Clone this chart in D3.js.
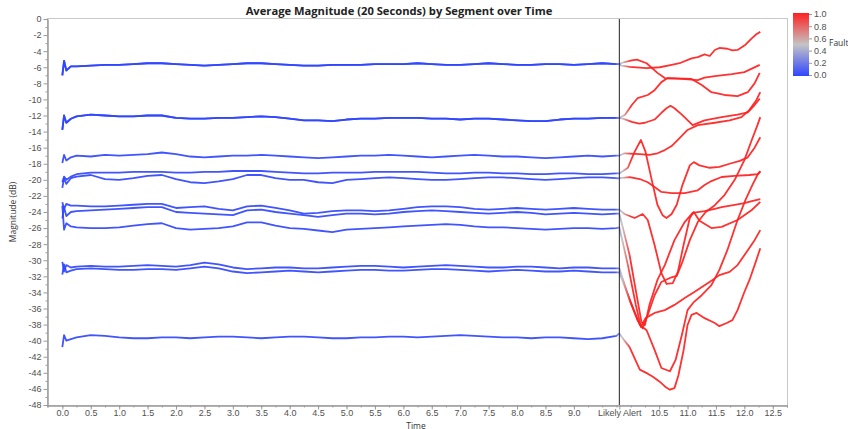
<!DOCTYPE html>
<html>
<head>
<meta charset="utf-8">
<script src="https://cdn.jsdelivr.net/npm/d3@7"></script>
<style>
  body { margin: 0; background: #fff; }
  svg { display: block; font-family: "Open Sans", "Noto Sans", sans-serif; }
</style>
</head>
<body>
<svg id="chart" width="848" height="429"></svg>
<script>
// time stamps of the normal (pre-alert) part, shared by every segment
var baseTime = [0,0.03,0.07,0.15,0.25,0.5,0.75,1,1.25,1.5,1.75,2,2.25,2.5,2.75,3,3.25,3.5,3.75,4,4.25,4.5,4.75,5,5.25,5.5,5.75,6,6.25,6.5,6.75,7,7.25,7.5,7.75,8,8.25,8.5,8.75,9,9.25,9.5,9.75,9.8];

// magnitude (dB) per segment before the alert
var seg1  = [-7.0,-5.2,-6.4,-5.9,-5.9,-5.8,-5.7,-5.7,-5.6,-5.5,-5.5,-5.6,-5.7,-5.8,-5.7,-5.6,-5.5,-5.5,-5.6,-5.7,-5.8,-5.8,-5.7,-5.7,-5.7,-5.6,-5.6,-5.6,-5.5,-5.6,-5.7,-5.7,-5.6,-5.5,-5.6,-5.7,-5.7,-5.6,-5.6,-5.7,-5.6,-5.5,-5.6,-5.6];
var seg2  = [-13.8,-12.0,-12.9,-12.4,-12.1,-11.9,-12.0,-12.1,-12.1,-12.0,-12.0,-12.3,-12.4,-12.4,-12.3,-12.3,-12.2,-12.1,-12.2,-12.4,-12.6,-12.6,-12.7,-12.5,-12.4,-12.4,-12.3,-12.3,-12.3,-12.4,-12.4,-12.5,-12.4,-12.4,-12.5,-12.6,-12.7,-12.7,-12.5,-12.4,-12.4,-12.3,-12.3,-12.3];
var seg3  = [-17.9,-16.9,-17.6,-17.2,-17.0,-17.1,-16.9,-17.0,-16.9,-16.8,-16.6,-16.8,-17.1,-17.2,-17.1,-17.0,-17.0,-16.9,-17.0,-17.1,-17.2,-17.3,-17.2,-17.1,-17.0,-17.0,-16.9,-17.0,-17.1,-17.2,-17.1,-17.0,-16.9,-17.0,-17.1,-17.1,-17.2,-17.3,-17.2,-17.1,-17.0,-17.1,-17.0,-17.0];
var seg4  = [-20.3,-19.6,-20.0,-19.6,-19.3,-19.1,-19.1,-19.1,-19.0,-19.0,-19.0,-19.1,-19.1,-19.0,-19.0,-18.9,-18.9,-18.9,-19.0,-19.1,-19.2,-19.2,-19.1,-19.1,-19.1,-19.0,-19.0,-19.0,-19.0,-19.1,-19.2,-19.2,-19.1,-19.1,-19.2,-19.2,-19.3,-19.3,-19.2,-19.2,-19.3,-19.3,-19.2,-19.2];
var seg5  = [-21.0,-19.8,-20.5,-19.8,-19.6,-19.4,-19.9,-20.0,-19.8,-19.5,-19.4,-19.9,-20.3,-20.4,-20.2,-19.9,-19.4,-19.4,-19.8,-20.0,-20.0,-20.3,-20.4,-20.0,-19.9,-19.8,-19.7,-19.8,-19.9,-20.0,-20.0,-19.9,-19.8,-19.7,-19.7,-19.8,-19.9,-20.0,-19.9,-19.8,-19.7,-19.7,-19.8,-19.8];
var seg6  = [-22.8,-23.6,-23.0,-23.2,-23.2,-23.3,-23.3,-23.2,-23.1,-23.0,-23.0,-23.5,-23.4,-23.3,-23.6,-23.8,-23.3,-23.2,-23.5,-23.8,-24.2,-24.1,-23.9,-23.8,-23.8,-23.9,-23.8,-23.6,-23.4,-23.3,-23.3,-23.4,-23.6,-23.7,-23.6,-23.5,-23.6,-23.7,-23.6,-23.5,-23.6,-23.7,-23.7,-23.7];
var seg7  = [-24.8,-23.4,-24.5,-24.0,-23.9,-23.8,-23.7,-23.6,-23.5,-23.4,-23.4,-24.0,-24.1,-24.2,-24.3,-24.4,-23.8,-23.7,-24.0,-24.2,-24.4,-24.6,-24.4,-24.2,-24.2,-24.3,-24.2,-24.0,-23.9,-23.8,-23.9,-24.0,-24.1,-24.2,-24.1,-24.0,-24.1,-24.3,-24.2,-24.1,-24.2,-24.3,-24.2,-24.2];
var seg8  = [-23.2,-26.2,-25.4,-25.8,-25.9,-26.0,-26.0,-25.9,-25.7,-25.5,-25.4,-26.0,-26.2,-26.1,-26.0,-25.8,-25.3,-25.3,-25.7,-26.0,-26.1,-26.3,-26.5,-26.2,-26.1,-26.0,-25.9,-25.8,-25.7,-25.6,-25.5,-25.6,-25.8,-25.9,-25.9,-26.0,-26.1,-26.2,-26.1,-26.0,-26.0,-26.1,-26.0,-25.9];
var seg9  = [-30.2,-31.4,-30.6,-30.9,-30.8,-30.7,-30.8,-30.8,-30.7,-30.6,-30.7,-30.8,-30.6,-30.3,-30.5,-30.9,-31.1,-31.0,-30.9,-30.9,-31.0,-31.0,-30.9,-30.8,-30.7,-30.7,-30.8,-30.9,-30.8,-30.7,-30.6,-30.7,-30.8,-30.9,-30.9,-30.8,-30.8,-30.9,-31.0,-30.9,-30.9,-31.0,-31.0,-31.0];
var seg10 = [-31.8,-30.5,-31.5,-31.3,-31.1,-31.0,-31.1,-31.2,-31.2,-31.1,-31.1,-31.2,-31.0,-30.8,-31.0,-31.4,-31.6,-31.5,-31.4,-31.3,-31.4,-31.5,-31.4,-31.3,-31.2,-31.2,-31.3,-31.3,-31.2,-31.1,-31.1,-31.2,-31.3,-31.4,-31.3,-31.2,-31.3,-31.4,-31.4,-31.3,-31.4,-31.5,-31.5,-31.5];
var seg11 = [-40.8,-39.3,-40.0,-39.8,-39.6,-39.3,-39.4,-39.6,-39.7,-39.7,-39.6,-39.6,-39.7,-39.6,-39.5,-39.5,-39.6,-39.7,-39.6,-39.5,-39.5,-39.6,-39.7,-39.7,-39.6,-39.6,-39.5,-39.5,-39.6,-39.5,-39.4,-39.3,-39.4,-39.5,-39.6,-39.6,-39.7,-39.6,-39.6,-39.7,-39.8,-39.7,-39.4,-39.1];
var segments = [seg1, seg2, seg3, seg4, seg5, seg6, seg7, seg8, seg9, seg10, seg11];

// [time, dB] after the likely alert, one list per trace
var alert1  = [[9.84,-5.8],[9.98,-5.95],[10.28,-6.1],[10.51,-6.0],[10.72,-5.7],[10.86,-5.5],[11.07,-4.9],[11.18,-4.75],[11.3,-4.4],[11.39,-4.6],[11.48,-3.85],[11.56,-3.6],[11.7,-3.7],[11.79,-3.9],[11.88,-3.85],[12.02,-3.2],[12.13,-2.4],[12.21,-1.9],[12.28,-1.6]];
var alert2  = [[9.89,-5.35],[10.02,-5.15],[10.11,-5.05],[10.28,-5.5],[10.47,-6.7],[10.6,-7.35],[10.9,-7.45],[11.18,-7.6],[11.3,-7.3],[11.48,-7.1],[11.78,-6.85],[12.0,-6.6],[12.27,-5.7]];
var alert3  = [[9.9,-11.9],[10.02,-10.7],[10.12,-9.85],[10.3,-9.45],[10.42,-8.85],[10.54,-7.85],[10.65,-7.35],[11.07,-7.45],[11.25,-8.2],[11.42,-9.1],[11.65,-9.45],[11.88,-9.6],[12.06,-9.1],[12.18,-8.0],[12.27,-6.7]];
var alert4  = [[9.86,-12.4],[10.02,-12.8],[10.15,-13.0],[10.25,-12.9],[10.42,-12.5],[10.55,-11.6],[10.63,-11.1],[10.7,-10.8],[10.77,-11.1],[10.9,-11.9],[11.09,-13.2],[11.3,-12.6],[11.6,-12.2],[11.88,-11.9],[12.06,-11.6],[12.18,-10.7],[12.27,-9.9]];
var alert5  = [[9.89,-16.7],[10.16,-16.8],[10.33,-16.9],[10.47,-16.7],[10.6,-16.3],[10.72,-15.8],[10.86,-14.8],[11.0,-13.8],[11.18,-13.2],[11.48,-12.9],[11.74,-12.6],[11.95,-12.2],[12.09,-11.3],[12.21,-10.1],[12.28,-9.1]];
var alert6  = [[9.95,-18.5],[10.07,-16.5],[10.18,-15.05],[10.26,-16.5],[10.37,-20.0],[10.47,-23.1],[10.56,-24.4],[10.63,-24.75],[10.72,-24.25],[10.81,-23.1],[10.91,-20.65],[11.04,-18.2],[11.11,-17.8],[11.21,-18.2],[11.39,-18.5],[11.56,-18.4],[11.74,-18.0],[11.92,-17.65],[12.06,-17.2],[12.18,-16.0],[12.28,-14.7]];
var alert7  = [[9.98,-19.65],[10.16,-19.9],[10.3,-20.3],[10.42,-20.9],[10.54,-21.5],[10.72,-21.65],[10.95,-21.65],[11.18,-21.3],[11.3,-20.65],[11.42,-20.15],[11.6,-19.65],[11.83,-19.5],[12.09,-19.4],[12.23,-19.3],[12.28,-19.0]];
var alert8  = [[9.89,-24.25],[10.07,-24.75],[10.21,-24.25],[10.3,-25.0],[10.42,-28.1],[10.54,-31.6],[10.63,-32.95],[10.74,-32.85],[10.83,-31.45],[10.93,-28.1],[11.04,-24.75],[11.11,-24.0],[11.21,-25.1],[11.42,-26.0],[11.6,-25.85],[11.88,-25.0],[12.13,-23.75],[12.28,-22.75]];
var alert9  = [[9.98,-29.35],[10.12,-34.95],[10.19,-37.7],[10.25,-38.05],[10.33,-35.55],[10.47,-32.45],[10.6,-30.6],[10.77,-27.5],[10.95,-25.25],[11.09,-24.1],[11.3,-23.9],[11.48,-23.6],[11.6,-23.4],[11.83,-23.1],[12.0,-22.9],[12.13,-22.65],[12.28,-22.4]];
var alert10 = [[9.95,-30.6],[10.09,-35.55],[10.18,-38.3],[10.26,-37.2],[10.42,-36.55],[10.6,-36.2],[10.77,-35.55],[10.95,-34.7],[11.12,-33.95],[11.3,-33.1],[11.44,-32.45],[11.56,-31.85],[11.74,-31.45],[11.88,-30.6],[12.06,-28.75],[12.18,-27.5],[12.28,-26.25]];
var alert11 = [[9.98,-34.95],[10.12,-37.45],[10.21,-38.45],[10.3,-36.8],[10.42,-34.35],[10.54,-32.7],[10.69,-32.2],[10.81,-31.95],[10.91,-30.2],[11.04,-27.5],[11.18,-25.25],[11.32,-24.0],[11.48,-23.15],[11.65,-21.9],[11.83,-20.0],[12.0,-17.55],[12.13,-15.05],[12.23,-13.2],[12.28,-12.2]];
var alert12 = [[10.02,-35.55],[10.16,-38.05],[10.28,-38.7],[10.42,-41.15],[10.54,-43.4],[10.69,-43.8],[10.79,-42.4],[10.9,-39.3],[11.0,-36.2],[11.11,-35.2],[11.25,-34.35],[11.42,-33.1],[11.56,-31.2],[11.7,-28.75],[11.88,-25.0],[12.02,-22.5],[12.14,-20.65],[12.23,-19.4],[12.28,-18.9]];
var alert13 = [[9.89,-40.0],[9.98,-40.8],[10.16,-43.6],[10.3,-44.1],[10.39,-44.5],[10.51,-45.1],[10.62,-45.8],[10.69,-46.1],[10.77,-45.9],[10.84,-44.3],[10.93,-41.2],[11.0,-38.05],[11.07,-36.8],[11.16,-36.55],[11.3,-37.2],[11.48,-37.8],[11.56,-38.2],[11.69,-37.8],[11.79,-37.45],[11.88,-36.2],[12.0,-33.95],[12.09,-32.45],[12.2,-30.2],[12.28,-28.5]];
var alerts = [alert1, alert2, alert3, alert4, alert5, alert6, alert7, alert8, alert9, alert10, alert11, alert12, alert13];
// which segment (index into segments) each post-alert trace continues
var alertFrom = [0, 0, 1, 1, 2, 3, 4, 5, 6, 7, 8, 9, 10];

var alertTime = 9.8;
var alertLabel = "Likely Alert";
var xMajor = [0,0.5,1,1.5,2,2.5,3,3.5,4,4.5,5,5.5,6,6.5,7,7.5,8,8.5,9,9.8,10.5,11,11.5,12,12.5];
var yMajor = d3.range(-48, 1, 2);
var faultTicks = [0, 0.2, 0.4, 0.6, 0.8, 1.0];

var svg = d3.select("#chart");

var x = d3.scaleLinear().domain([-0.27, 12.75]).range([47, 787]);
var y = d3.scaleLinear().domain([-48, 0]).range([405, 19]);
var fault = d3.scaleLinear().domain([0, 0.5, 1]).range(["#2f45ff", "#c4c4c4", "#ff1f1f"]);

var defs = svg.append("defs");
var lg = defs.append("linearGradient")
    .attr("id", "lineGrad")
    .attr("gradientUnits", "userSpaceOnUse")
    .attr("x1", x(9.72)).attr("x2", x(10.0))
    .attr("y1", 0).attr("y2", 0);
lg.append("stop").attr("offset", 0).attr("stop-color", fault(0));
lg.append("stop").attr("offset", 0.45).attr("stop-color", fault(0.5));
lg.append("stop").attr("offset", 1).attr("stop-color", fault(1));

var leg = defs.append("linearGradient")
    .attr("id", "legGrad")
    .attr("x1", 0).attr("x2", 0).attr("y1", 1).attr("y2", 0);
leg.append("stop").attr("offset", 0).attr("stop-color", fault(0));
leg.append("stop").attr("offset", 0.5).attr("stop-color", fault(0.5));
leg.append("stop").attr("offset", 1).attr("stop-color", fault(1));

// frame
svg.append("rect")
    .attr("x", 47.5).attr("y", 18.5)
    .attr("width", 740).attr("height", 387)
    .attr("fill", "none").attr("stroke", "#c8c8c8");

// axes
var yAxis = svg.append("g").attr("transform", "translate(47.5,0)")
    .call(d3.axisLeft(y).tickValues(yMajor).tickSize(4).tickSizeOuter(0)
      .tickFormat(function(d) { return String(d); }));
var yMinor = svg.append("g").attr("transform", "translate(47.5,0)")
    .call(d3.axisLeft(y).tickValues(d3.range(-47, 0, 2)).tickSize(2).tickFormat(""));

var xAxis = svg.append("g").attr("transform", "translate(0,405.5)")
    .call(d3.axisBottom(x).tickValues(xMajor).tickSize(4).tickSizeOuter(0)
      .tickFormat(function(d) { return d === alertTime ? alertLabel : d.toFixed(1); }));
var xMinor = svg.append("g").attr("transform", "translate(0,405.5)")
    .call(d3.axisBottom(x).tickValues(d3.range(-0.25, 12.76, 0.25)).tickSize(2).tickFormat(""));

svg.selectAll(".domain").attr("stroke", "#9a9a9a");
svg.selectAll(".tick line").attr("stroke", "#9a9a9a");
svg.selectAll(".tick text").attr("fill", "#505050").style("font-size", "9px");
yAxis.selectAll(".tick text").attr("x", -6);
xAxis.selectAll(".tick text").attr("y", 4.5);

// series
var line = d3.line()
    .x(function(d) { return x(d[0]); })
    .y(function(d) { return y(d[1]); });

segments.forEach(function(seg, i) {
  var pts = baseTime.map(function(t, j) { return [t, seg[j]]; });
  var outs = alerts.filter(function(a, k) { return alertFrom[k] === i; });
  if (outs.length === 0) outs = [[]];
  outs.forEach(function(a) {
    svg.append("path")
        .attr("d", line(pts.concat(a)))
        .attr("fill", "none")
        .attr("stroke", "url(#lineGrad)")
        .attr("stroke-width", 1.8)
        .attr("stroke-linejoin", "round")
        .attr("opacity", 0.92);
  });
});

// likely alert marker
svg.append("line")
    .attr("x1", x(alertTime)).attr("x2", x(alertTime))
    .attr("y1", 19).attr("y2", 405)
    .attr("stroke", "#222").attr("stroke-width", 1);

// title and axis labels
svg.append("text")
    .attr("x", 399).attr("y", 15)
    .attr("text-anchor", "middle")
    .style("font-size", "11.2px").style("font-weight", "bold")
    .attr("fill", "#222")
    .text("Average Magnitude (20 Seconds) by Segment over Time");

svg.append("text")
    .attr("transform", "translate(16,212) rotate(-90)")
    .attr("text-anchor", "middle")
    .style("font-size", "8.5px").attr("fill", "#333")
    .text("Magnitude (dB)");

svg.append("text")
    .attr("x", 416).attr("y", 428.5)
    .attr("text-anchor", "middle")
    .style("font-size", "8.5px").attr("fill", "#333")
    .text("Time");

// colour legend
var ly = d3.scaleLinear().domain([0, 1]).range([75, 14]);
svg.append("rect")
    .attr("x", 793).attr("y", 13)
    .attr("width", 16).attr("height", 63)
    .attr("fill", "url(#legGrad)");
var legAxis = svg.append("g").attr("transform", "translate(809,0)")
    .call(d3.axisRight(ly).tickValues(faultTicks).tickSize(3)
      .tickFormat(d3.format(".1f")));
legAxis.select(".domain").remove();
legAxis.selectAll(".tick line").attr("stroke", "#9a9a9a");
legAxis.selectAll(".tick text").attr("fill", "#505050").style("font-size", "9px").attr("x", 5);
svg.append("text")
    .attr("x", 829).attr("y", 46)
    .style("font-size", "8.5px").attr("fill", "#333")
    .text("Fault");
</script>
</body>
</html>
